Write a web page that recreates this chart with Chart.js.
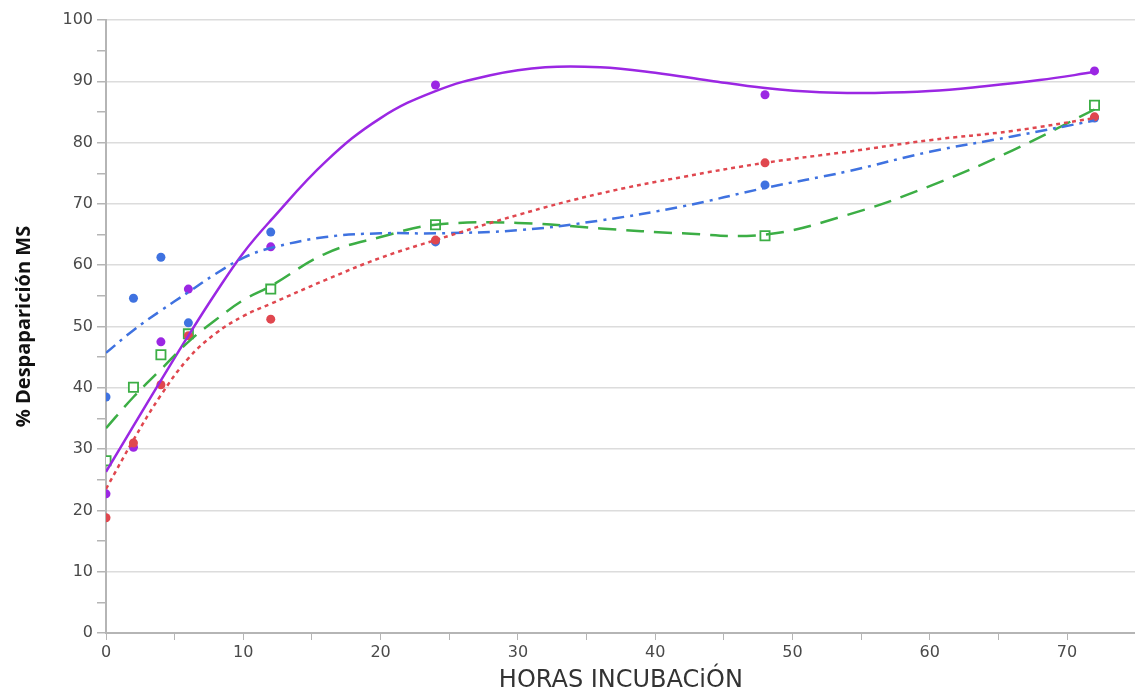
<!DOCTYPE html>
<html>
<head>
<meta charset="utf-8">
<script src="https://cdn.jsdelivr.net/npm/chart.js@4/dist/chart.umd.min.js"></script>
<style>
  html, body { margin: 0; padding: 0; background: #fff; overflow: hidden; }
  #wrap { width: 1144px; height: 693px; }
</style>
</head>
<body>
<div id="wrap"><canvas id="digChart"></canvas></div>
<script>
// observed incubation hours
const horas = [0, 2, 4, 6, 12, 24, 48, 72];
const obsMorado = [22.7, 30.3, 47.5, 56.1, 63.0, 89.4, 87.8, 91.7];
const obsAzul   = [38.5, 54.6, 61.3, 50.6, 65.4, 63.8, 73.1, 84.0];
const obsRojo   = [18.8, 31.0, 40.5, 48.5, 51.2, 64.1, 76.7, 84.2];
const obsVerde  = [28.1, 40.1, 45.4, 48.8, 56.1, 66.6, 64.8, 86.1];

// fitted curves
const horasMorado = [0, 2, 4, 6, 8, 10, 12, 16, 20, 24, 28, 32, 36, 40, 44, 48, 52, 56, 60, 64, 68, 72];
const curvaMorado = [26.3, 33.8, 41.2, 48.5, 55.5, 62.0, 67.3, 76.9, 84.0, 88.4, 91.0, 92.3, 92.3, 91.4, 90.1, 88.9, 88.2, 88.1, 88.4, 89.2, 90.2, 91.5];
const horasCurva = [0, 2, 4, 6, 8, 10, 12, 16, 20, 24, 30, 36, 42, 48, 54, 60, 66, 72];
const curvaAzul  = [45.7, 49.4, 52.6, 55.6, 58.6, 61.2, 62.8, 64.6, 65.2, 65.2, 65.7, 67.3, 69.6, 72.6, 75.3, 78.5, 81.0, 83.6];
const curvaRojo  = [23.5, 31.5, 38.8, 44.8, 48.9, 51.7, 53.7, 57.6, 61.2, 64.1, 68.2, 71.7, 74.4, 76.7, 78.5, 80.4, 81.9, 84.0];
const curvaVerde = [33.4, 38.5, 43.0, 47.5, 51.1, 54.3, 56.6, 61.9, 64.6, 66.6, 66.9, 66.0, 65.2, 65.0, 68.2, 72.9, 78.7, 85.4];

const MORADO = '#9b27e3';
const AZUL = '#3f72e0';
const ROJO = '#e0474f';
const VERDE = '#3cae45';

const pts = (xs, ys) => xs.map((x, i) => ({ x: x, y: ys[i] }));

function curva(xs, ys, color, dash) {
  return {
    data: pts(xs, ys),
    showLine: true,
    borderColor: color,
    borderWidth: 2.5,
    borderDash: dash,
    pointRadius: 0,
    tension: 0.4
  };
}

function puntos(ys, color) {
  return {
    data: pts(horas, ys),
    showLine: false,
    pointRadius: 4.5,
    pointBackgroundColor: color,
    pointBorderColor: color,
    pointBorderWidth: 0
  };
}

const tickFont = { family: 'DejaVu Sans', size: 16 };

const ctx = document.getElementById('digChart');
new Chart(ctx, {
  type: 'scatter',
  data: {
    datasets: [
      curva(horasCurva, curvaRojo, ROJO, [4, 4]),
      curva(horasCurva, curvaAzul, AZUL, [12, 6, 3, 6]),
      curva(horasCurva, curvaVerde, VERDE, [18, 10]),
      curva(horasMorado, curvaMorado, MORADO, []),
      puntos(obsRojo, ROJO),
      puntos(obsAzul, AZUL),
      puntos(obsMorado, MORADO),
      {
        data: pts(horas, obsVerde),
        showLine: false,
        pointStyle: 'rect',
        pointRadius: 6.5,
        pointBackgroundColor: '#fff',
        pointBorderColor: VERDE,
        pointBorderWidth: 1.8
      }
    ]
  },
  options: {
    responsive: true,
    maintainAspectRatio: false,
    animation: false,
    layout: { padding: { top: 20, right: 0, left: 8, bottom: 0 } },
    plugins: { legend: { display: false }, tooltip: { enabled: false } },
    scales: {
      x: {
        type: 'linear',
        min: 0,
        max: 75,
        border: { color: '#b5b5b5', width: 2 },
        grid: { drawOnChartArea: false, tickColor: '#b5b5b5', tickLength: 7 },
        ticks: {
          stepSize: 5,
          maxRotation: 0,
          color: '#4a4a4a',
          font: tickFont,
          callback: v => (v % 10 === 0 ? v : '')
        },
        title: {
          display: true,
          text: 'HORAS INCUBACiÓN',
          color: '#333',
          font: { family: 'DejaVu Sans', size: 24, lineHeight: 1 },
          padding: { top: 0, bottom: 0 }
        },
        afterFit: s => { s.height = 60; }
      },
      y: {
        min: 0,
        max: 100,
        border: { color: '#b5b5b5', width: 2 },
        grid: {
          color: c => (c.tick && c.tick.value % 10 === 0 ? '#dcdcdc' : 'rgba(0,0,0,0)'),
          lineWidth: 1.5,
          tickColor: '#b5b5b5',
          tickLength: 9
        },
        ticks: {
          stepSize: 5,
          color: '#4a4a4a',
          font: tickFont,
          padding: 4,
          callback: v => (v % 10 === 0 ? v : '')
        },
        title: {
          display: true,
          text: '% Despaparición MS',
          color: '#111',
          font: { family: 'Open Sans', size: 20, weight: 'bold' },
          padding: { bottom: 4 }
        },
        afterFit: s => { s.width = 98; }
      }
    }
  }
});
</script>
</body>
</html>
